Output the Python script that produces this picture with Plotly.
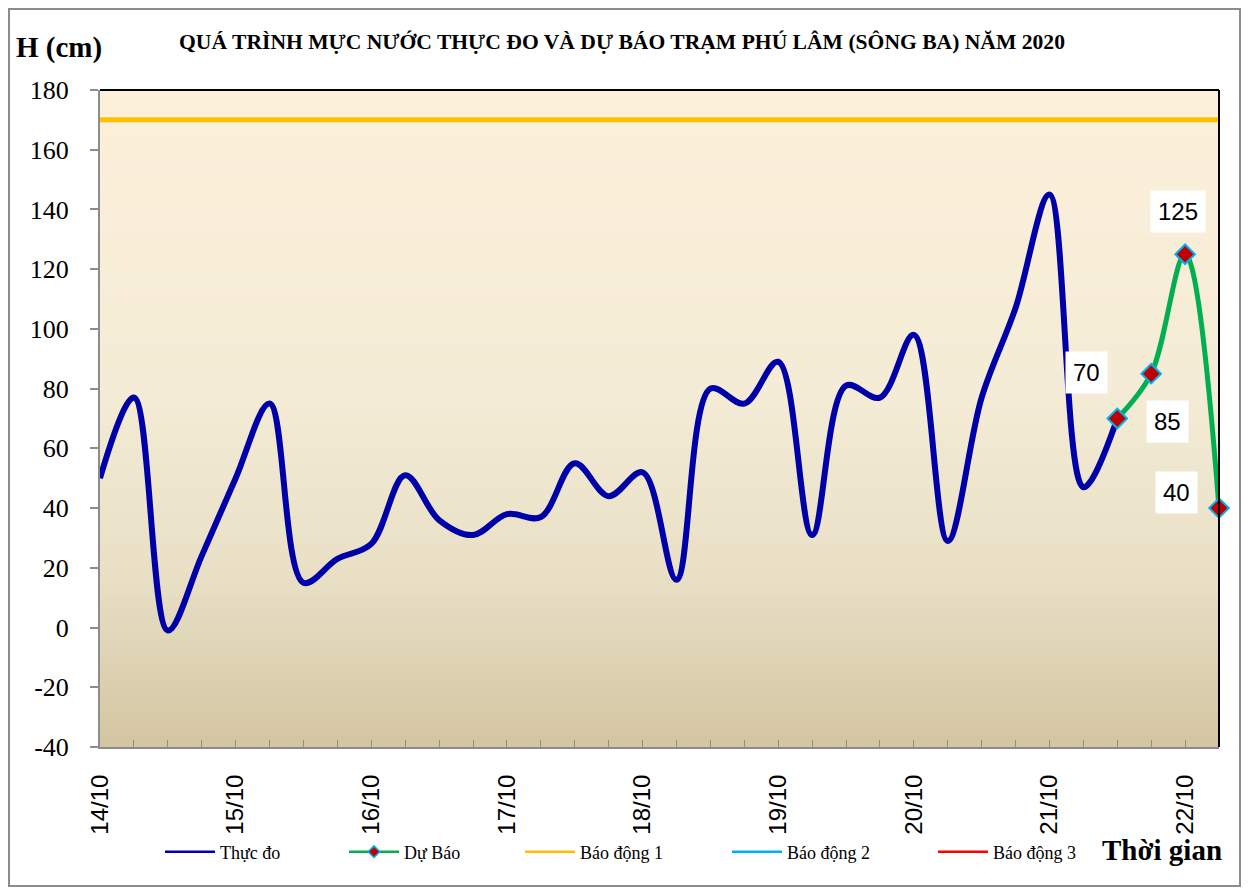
import plotly.graph_objects as go

# ---------------- data ----------------
days = ["14/10", "15/10", "16/10", "17/10", "18/10", "19/10", "20/10", "21/10", "22/10"]
steps_per_day = 4  # 6-hourly observations

observed = [50, 77, -1, 24, 50, 75, 15, 23, 28, 51, 36, 31, 38, 37, 55, 44, 52,
            16, 80, 75, 89, 31, 81, 77, 98, 29, 77, 107, 145, 47, 70]
forecast = [70, 85, 125, 40]
forecast_start = 30

alarm_names = ["Báo động 1", "Báo động 2", "Báo động 3"]
alarm_values = [170, 270, 370]
alarm_colors = ["#FFC000", "#00B0F0", "#FF0000"]

y_ticks = list(range(-40, 181, 20))

# ---------------- derived ----------------
n_steps = forecast_start + len(forecast)
x_obs = list(range(len(observed)))
x_fc = list(range(forecast_start, forecast_start + len(forecast)))
day_ticks = [i * steps_per_day for i in range(len(days))]

# page has an 8px body margin; figure coordinates = page coordinates - 8
OFF = 8
W, H = 1249 - 2 * OFF, 895 - 2 * OFF
L, T = 100 - OFF, 90 - OFF
plot_right, plot_bottom = 1219 - OFF, 747 - OFF
R, B = W - plot_right, H - plot_bottom
pw, ph = plot_right - L, plot_bottom - T

def px(xp):  # page x -> paper
    return (xp - OFF - L) / pw

def py(yp):  # page y -> paper
    return (plot_bottom - (yp - OFF)) / ph

SERIF = "Liberation Serif"
SANS = "Liberation Sans"

fig = go.Figure()

obs_color = "#0000A8"
fc_color = "#00B050"
fc_marker = dict(symbol="diamond", color="#C00000")

fig.add_trace(go.Scatter(
    x=x_obs, y=observed, name="Thực đo", mode="lines", showlegend=False,
    line=dict(width=6, shape="spline", smoothing=1.0, color=obs_color),
))
fig.add_trace(go.Scatter(
    x=x_fc, y=forecast, name="Dự Báo", mode="lines+markers", showlegend=False,
    line=dict(width=5, shape="spline", smoothing=1.0, color=fc_color),
    marker=dict(size=15, line=dict(color="#00B0F0", width=2), **fc_marker),
    cliponaxis=False,
))
for name, lvl, c in zip(alarm_names, alarm_values, alarm_colors):
    fig.add_trace(go.Scatter(
        x=[0, n_steps - 1], y=[lvl, lvl], name=name, mode="lines", showlegend=False,
        line=dict(color=c, width=5),
    ))

# legend entries (thin symbols like the original), each in its own legend box
legend_names = ["Thực đo", "Dự Báo"] + alarm_names
legend_text_x = [220, 404, 580, 787, 993]  # page x where the legend text starts
legend_ids = ["legend", "legend2", "legend3", "legend4", "legend5"]
legend_lines = [obs_color, fc_color] + alarm_colors
ITEMW = 50
for nm, lid, c in zip(legend_names, legend_ids, legend_lines):
    fig.add_trace(go.Scatter(
        x=[None], y=[None], name=nm, legend=lid, showlegend=True,
        mode="lines+markers" if nm == "Dự Báo" else "lines",
        line=dict(color=c, width=2.5),
        marker=dict(size=9, line=dict(color="#00B0F0", width=1.5), **fc_marker),
    ))

leg_common = dict(orientation="h", xanchor="left", yanchor="middle", y=py(852), itemwidth=ITEMW,
                  font=dict(family=SERIF, size=18, color="black"), bgcolor="rgba(0,0,0,0)")
legend_layout = {}
for lid, tx in zip(legend_ids, legend_text_x):
    legend_layout[lid] = dict(x=px(tx - ITEMW - 10), **leg_common)

# background gradient (peach top -> tan bottom)
stops = [(0.0, (253, 240, 219)), (0.45, (244, 236, 214)), (0.75, (232, 223, 197)), (1.0, (211, 197, 161))]
def col_at(f):
    for (f0, c0), (f1, c1) in zip(stops[:-1], stops[1:]):
        if f0 <= f <= f1:
            t = (f - f0) / (f1 - f0)
            return "rgb(%d,%d,%d)" % tuple(round(a + (b - a) * t) for a, b in zip(c0, c1))
    return "rgb(%d,%d,%d)" % stops[-1][1]

shapes = []
NB = 80
for k in range(NB):
    y1 = 1 - k / NB
    y0 = 1 - (k + 1) / NB
    shapes.append(dict(type="rect", xref="paper", yref="paper", x0=0, x1=1, y0=y0, y1=min(1, y1 + 0.002),
                       fillcolor=col_at((k + 0.5) / NB), line=dict(width=0), layer="below"))
shapes.append(dict(type="line", xref="paper", yref="paper", x0=0, x1=1, y0=1, y1=1,
                   line=dict(color="black", width=2)))
shapes.append(dict(type="line", xref="paper", yref="paper", x0=1, x1=1, y0=0, y1=1,
                   line=dict(color="black", width=2)))
# outer chart border
shapes.append(dict(type="rect", xref="paper", yref="paper",
                   x0=(1 - L) / pw, x1=(W - 1 - L) / pw,
                   y0=(plot_bottom - (H - 1)) / ph, y1=(plot_bottom - 1) / ph,
                   line=dict(color="#8C8C8C", width=2)))

annotations = []
label_shifts = [(-31, 46), (16, -48), (-7, 43), (-43, 16)]
for xv, yv, (dx, dy) in zip(x_fc, forecast, label_shifts):
    annotations.append(dict(x=xv, y=yv, xref="x", yref="y", text=str(yv), showarrow=False,
                            xanchor="center", yanchor="middle",
                            xshift=dx, yshift=dy, bgcolor="white", borderpad=7,
                            font=dict(family=SANS, size=24, color="black")))

annotations.append(dict(x=px(59), y=py(47), xref="paper", yref="paper",
                        xanchor="center", yanchor="middle",
                        text="<b>H (cm)</b>", showarrow=False,
                        font=dict(family=SERIF, size=29, color="black")))
annotations.append(dict(x=px(622), y=py(42), xref="paper", yref="paper",
                        xanchor="center", yanchor="middle",
                        text="<b>QUÁ TRÌNH MỰC NƯỚC THỰC ĐO VÀ DỰ BÁO TRẠM PHÚ LÂM (SÔNG BA) NĂM 2020</b>",
                        showarrow=False, font=dict(family=SERIF, size=21.6, color="black")))
annotations.append(dict(x=px(1162), y=py(850), xref="paper", yref="paper",
                        xanchor="center", yanchor="middle",
                        text="<b>Thời gian</b>", showarrow=False,
                        font=dict(family=SERIF, size=29, color="black")))

fig.update_layout(
    width=W, height=H,
    margin=dict(l=L, r=R, t=T, b=B),
    paper_bgcolor="white", plot_bgcolor="rgba(0,0,0,0)",
    showlegend=True,
    shapes=shapes, annotations=annotations,
    xaxis=dict(range=[0, n_steps - 1], tickmode="array", tickvals=day_ticks, ticktext=days,
               tickangle=-90, ticks="inside", ticklen=7, tickcolor="#8C8C8C", tickwidth=1,
               minor=dict(ticks="inside", dtick=1, tick0=0, ticklen=7, tickcolor="#8C8C8C"),
               showline=True, linecolor="#8C8C8C", linewidth=2, showgrid=False, zeroline=False,
               tickfont=dict(family=SANS, size=24, color="black"), ticklabelstandoff=16),
    yaxis=dict(range=[-40, 180], tickmode="array", tickvals=y_ticks,
               ticktext=[str(v) for v in y_ticks],
               ticks="outside", ticklen=8, tickcolor="#8C8C8C", tickwidth=2,
               showline=True, linecolor="#8C8C8C", linewidth=2, showgrid=False, zeroline=False,
               tickfont=dict(family=SERIF, size=26, color="black"), ticklabelstandoff=16),
    **legend_layout,
)

fig.write_html("out.html")
